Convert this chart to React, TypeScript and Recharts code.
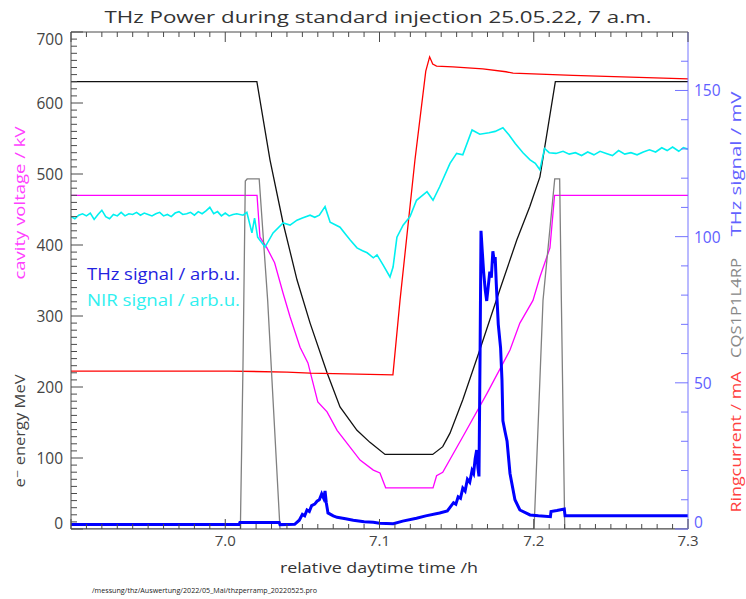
import React from 'react';
import { LineChart, Line, XAxis, YAxis, ReferenceLine } from 'recharts';

// time axis in h, left axis in kV / MeV units, right axis in mV
const energyT = [6.9, 7.0205, 7.029, 7.0375, 7.0465, 7.055, 7.066, 7.0744, 7.0854, 7.0938, 7.1036, 7.1345, 7.141, 7.1457, 7.154, 7.165, 7.178, 7.189, 7.1974, 7.204, 7.214, 7.3];
const energyV = [630, 630, 520, 431, 351, 290, 220, 172, 139, 122, 105, 105, 116, 135, 182, 252, 337, 407, 454, 496, 630, 630];

const cavityT = [6.9, 7.0206, 7.0225, 7.027, 7.032, 7.0375, 7.042, 7.0485, 7.0536, 7.06, 7.066, 7.0725, 7.0874, 7.096, 7.1003, 7.104, 7.1347, 7.137, 7.141, 7.154, 7.1697, 7.1846, 7.191, 7.1995, 7.204, 7.2105, 7.2135, 7.3];
const cavityV = [470, 470, 411, 396, 375, 332, 299, 256, 234, 179, 165, 139, 97, 83, 79, 58, 58, 75, 80, 130, 191, 252, 290, 322, 355, 396, 470, 470];

const ringT = [6.9, 7.003, 7.04, 7.055, 7.1087, 7.1133, 7.123, 7.13, 7.1325, 7.1345, 7.137, 7.1476, 7.167, 7.182, 7.1866, 7.2254, 7.3];
const ringV = [222.5, 222.5, 221, 219.5, 217, 322, 520, 645, 665, 655, 652, 651, 648, 644, 642, 639, 634];

const cqsT = [6.9, 7.0098, 7.0115, 7.013, 7.0142, 7.022, 7.0275, 7.0355, 7.2002, 7.206, 7.2136, 7.2168, 7.2179, 7.2201, 7.3];
const cqsV = [0, 0, 230, 490, 493, 493, 322, 0, 0, 322, 493, 493, 322, 0, 0];

const nirT = [
  6.9, 6.9025, 6.905, 6.9075, 6.91, 6.9125, 6.915, 6.9175, 6.92, 6.9225, 6.925, 6.9275, 6.93, 6.9325, 6.935, 6.9375,
  6.94, 6.9425, 6.945, 6.9475, 6.95, 6.9525, 6.955, 6.9575, 6.96, 6.9625, 6.965, 6.9675, 6.97, 6.9725, 6.975, 6.9775,
  6.98, 6.9825, 6.985, 6.9875, 6.99, 6.9925, 6.995, 6.9975, 7.0, 7.0025, 7.005, 7.0075, 7.0115, 7.014, 7.0173, 7.019,
  7.021, 7.0258, 7.031, 7.0375, 7.042, 7.0465, 7.05, 7.055, 7.058, 7.061, 7.0647, 7.068, 7.0744, 7.078, 7.081, 7.0854,
  7.089, 7.092, 7.096, 7.0984, 7.1023, 7.1068, 7.1088, 7.1113, 7.1153, 7.1198, 7.124, 7.1308, 7.1347, 7.139, 7.1457, 7.15,
  7.154, 7.16, 7.165, 7.171, 7.175, 7.18, 7.184, 7.188, 7.193, 7.1976, 7.201, 7.204, 7.207, 7.21, 7.2144, 7.219,
  7.223, 7.227, 7.231, 7.235, 7.239, 7.243, 7.247, 7.251, 7.255, 7.259, 7.263, 7.267, 7.271, 7.275, 7.279, 7.283,
  7.2865, 7.29, 7.294, 7.297, 7.3,
];
const nirV = [
  440, 437, 442, 444, 441, 445, 436, 443, 449, 440, 437, 443, 441, 446, 441, 444,
  443, 446, 442, 445, 443, 441, 444, 446, 441, 443, 440, 445, 447, 443, 444, 446,
  442, 447, 444, 448, 453, 444, 447, 441, 445, 441, 443, 444, 442, 446, 417, 438,
  411, 397, 417, 431, 428, 435, 438, 442, 439, 442, 454, 432, 425, 415, 407, 396,
  392, 389, 382, 386, 372, 355, 369, 411, 428, 440, 463, 475, 463, 482, 515, 529,
  527, 562, 556, 558, 560, 565, 555, 543, 530, 520, 515, 506, 536, 530, 529, 532,
  528, 530, 526, 531, 527, 532, 529, 526, 533, 528, 530, 527, 531, 534, 531, 537,
  533, 538, 532, 537, 535,
];

const thzT = [
  6.9, 7.009, 7.0095, 7.035, 7.0355, 7.045, 7.048, 7.05, 7.0515, 7.053, 7.0545, 7.056, 7.058, 7.0595, 7.061, 7.0625,
  7.0638, 7.0647, 7.0655, 7.0666, 7.07, 7.0725, 7.078, 7.083, 7.09, 7.096, 7.1, 7.109, 7.115, 7.124, 7.13, 7.139,
  7.144, 7.148, 7.1495, 7.151, 7.1525, 7.154, 7.1555, 7.157, 7.1585, 7.16, 7.161, 7.162, 7.163, 7.1638, 7.1645, 7.1652,
  7.1658, 7.1665, 7.1675, 7.1685, 7.1695, 7.1705, 7.1715, 7.1725, 7.1735, 7.1745, 7.175, 7.1757, 7.177, 7.1785, 7.1794, 7.18,
  7.1815, 7.1827, 7.1846, 7.1878, 7.191, 7.1976, 7.203, 7.2108, 7.2112, 7.215, 7.2198, 7.2203, 7.3,
];
const thzV = [
  1.5, 1.5, 2.2, 2.2, 1.5, 1.6, 3, 5, 4.5, 6.5, 6, 8, 8.5, 9.5, 10, 12,
  10.5, 13, 9, 5.5, 4.5, 4, 3.5, 3, 2.5, 2.3, 2, 1.8, 2.7, 3.7, 4.5, 5.5,
  6.2, 9, 8.5, 11, 10.5, 14, 13, 17, 16, 20, 19, 24, 27, 21, 18, 60,
  102, 96, 88, 82, 78, 83, 88, 86, 95, 91, 93, 84, 70, 62, 51, 37,
  33, 30, 19, 10, 6.5, 4.8, 4.5, 4.2, 6, 6.3, 6.8, 4.5, 4.5,
];

const xMinorTicks = Array.from({ length: 41 }, (_, i) => Math.round((6.9 + i * 0.01) * 100) / 100);
const xLabels = ['7.0', '7.1', '7.2', '7.3'];
const leftTicks = Array.from({ length: 71 }, (_, i) => i * 10);
const leftLabels = [0, 100, 200, 300, 400, 500, 600, 700];
const rightTicks = Array.from({ length: 17 }, (_, i) => i * 10);
const rightLabels = [0, 50, 100, 150];

const zip = (t: number[], v: number[]) => t.map((x, i) => ({ t: x, v: v[i] }));

const PLOT = { left: 71, right: 688, top: 32, bottom: 529 };
const AXIS = '#4a4a4a';
const RIGHT_AXIS = '#7474ff';
const FONT = '"Open Sans", "DejaVu Sans", sans-serif';

const BottomTick = (props: any) => {
  const { x, payload } = props;
  const v: number = payload.value;
  const label = v.toFixed(1);
  const major = Math.round(v * 100) % 10 === 0;
  const len = major ? 10 : 5;
  return (
    <g>
      <line x1={x} x2={x} y1={PLOT.bottom} y2={PLOT.bottom - len} stroke={AXIS} />
      <line x1={x} x2={x} y1={PLOT.top} y2={PLOT.top + len} stroke={AXIS} />
      {major && xLabels.includes(label) && (
        <text x={x} y={PLOT.bottom + 17} textAnchor="middle" fontSize={15} fill="#444" fontFamily={FONT}>
          {label}
        </text>
      )}
    </g>
  );
};

const LeftTick = (props: any) => {
  const { y, payload } = props;
  const v: number = payload.value;
  const major = leftLabels.includes(v);
  const dy = v === 700 ? 7 : v === 0 ? -6 : 0;
  return (
    <g>
      <line x1={PLOT.left} x2={PLOT.left + (major ? 12 : 6)} y1={y} y2={y} stroke={AXIS} />
      {major && (
        <text x={PLOT.left - 8} y={y + dy} textAnchor="end" dominantBaseline="central" fontSize={15.5} fill="#444" fontFamily={FONT}>
          {v}
        </text>
      )}
    </g>
  );
};

const RightTick = (props: any) => {
  const { y, payload } = props;
  const v: number = payload.value;
  const major = rightLabels.includes(v);
  const dy = v === 0 ? -7 : 0;
  return (
    <g>
      <line x1={PLOT.right} x2={PLOT.right - (major ? 13 : 7)} y1={y} y2={y} stroke={RIGHT_AXIS} />
      {major && (
        <text x={PLOT.right + 6} y={y + dy} textAnchor="start" dominantBaseline="central" fontSize={15.5} fill="#6060ff" fontFamily={FONT}>
          {v}
        </text>
      )}
    </g>
  );
};

const VText = ({ x, y, len, color, children }: any) => (
  <text
    transform={`translate(${x},${y}) rotate(-90)`}
    textAnchor="middle"
    fontSize={15}
    fill={color}
    fontFamily={FONT}
    textLength={len}
    lengthAdjust="spacingAndGlyphs"
  >
    {children}
  </text>
);

export default function App() {
  return (
    <div style={{ position: 'absolute', left: 0, top: 0, width: 746, height: 599, background: '#fff' }}>
      <LineChart width={746} height={599} margin={{ top: 32, right: 0, bottom: 30, left: 11 }}>
        <XAxis
          dataKey="t"
          type="number"
          domain={[6.9, 7.3]}
          ticks={xMinorTicks}
          interval={0}
          allowDataOverflow
          height={40}
          tickLine={false}
          axisLine={{ stroke: AXIS }}
          tick={<BottomTick />}
        />
        <YAxis
          yAxisId="left"
          type="number"
          domain={[0, 700]}
          ticks={leftTicks}
          interval={0}
          allowDataOverflow
          width={60}
          tickLine={false}
          axisLine={{ stroke: AXIS }}
          tick={<LeftTick />}
        />
        <YAxis
          yAxisId="right"
          orientation="right"
          type="number"
          domain={[0, 170]}
          ticks={rightTicks}
          interval={0}
          allowDataOverflow
          width={58}
          tickLine={false}
          axisLine={{ stroke: RIGHT_AXIS }}
          tick={<RightTick />}
        />
        <ReferenceLine yAxisId="left" y={700} stroke={AXIS} />
        <Line yAxisId="left" data={zip(energyT, energyV)} dataKey="v" type="linear" stroke="#111" strokeWidth={1.3} dot={false} isAnimationActive={false} />
        <Line yAxisId="left" data={zip(cavityT, cavityV)} dataKey="v" type="linear" stroke="#ff00ff" strokeWidth={1.3} dot={false} isAnimationActive={false} />
        <Line yAxisId="left" data={zip(ringT, ringV)} dataKey="v" type="linear" stroke="#ff0000" strokeWidth={1.3} dot={false} isAnimationActive={false} />
        <Line yAxisId="left" data={zip(cqsT, cqsV)} dataKey="v" type="linear" stroke="#808080" strokeWidth={1.3} dot={false} isAnimationActive={false} />
        <Line yAxisId="left" data={zip(nirT, nirV)} dataKey="v" type="linear" stroke="#00f0f0" strokeWidth={1.6} dot={false} isAnimationActive={false} />
        <Line yAxisId="right" data={zip(thzT, thzV)} dataKey="v" type="linear" stroke="#0000ff" strokeWidth={3} dot={false} isAnimationActive={false} />
      </LineChart>
      <svg width={746} height={599} style={{ position: 'absolute', left: 0, top: 0, pointerEvents: 'none' }}>
        <text x={378} y={23} textAnchor="middle" fontSize={17} fill="#333" fontFamily={FONT} textLength={547} lengthAdjust="spacingAndGlyphs">
          THz Power during standard injection 25.05.22, 7 a.m.
        </text>
        <text x={379} y={573} textAnchor="middle" fontSize={15} fill="#333" fontFamily={FONT} textLength={198} lengthAdjust="spacingAndGlyphs">
          relative daytime time /h
        </text>
        <text x={92} y={593} fontSize={7} fill="#222" fontFamily={FONT} textLength={225} lengthAdjust="spacingAndGlyphs">
          /messung/thz/Auswertung/2022/05_Mai/thzperramp_20220525.pro
        </text>
        <text x={87} y={280} fontSize={15.5} fill="#2323e0" fontFamily={FONT} textLength={153} lengthAdjust="spacingAndGlyphs">
          THz signal / arb.u.
        </text>
        <text x={87} y={306} fontSize={15.5} fill="#30f0f0" fontFamily={FONT} textLength={153} lengthAdjust="spacingAndGlyphs">
          NIR signal / arb.u.
        </text>
        <VText x={25} y={203} len={153} color="#ff40ff">cavity voltage / kV</VText>
        <VText x={25} y={431} len={113} color="#444">e⁻ energy MeV</VText>
        <VText x={741} y={164} len={145} color="#6262ff">THz signal / mV</VText>
        <VText x={741} y={308} len={100} color="#888">CQS1P1L4RP</VText>
        <VText x={741} y={442} len={141} color="#ff4040">Ringcurrent / mA</VText>
      </svg>
    </div>
  );
}
